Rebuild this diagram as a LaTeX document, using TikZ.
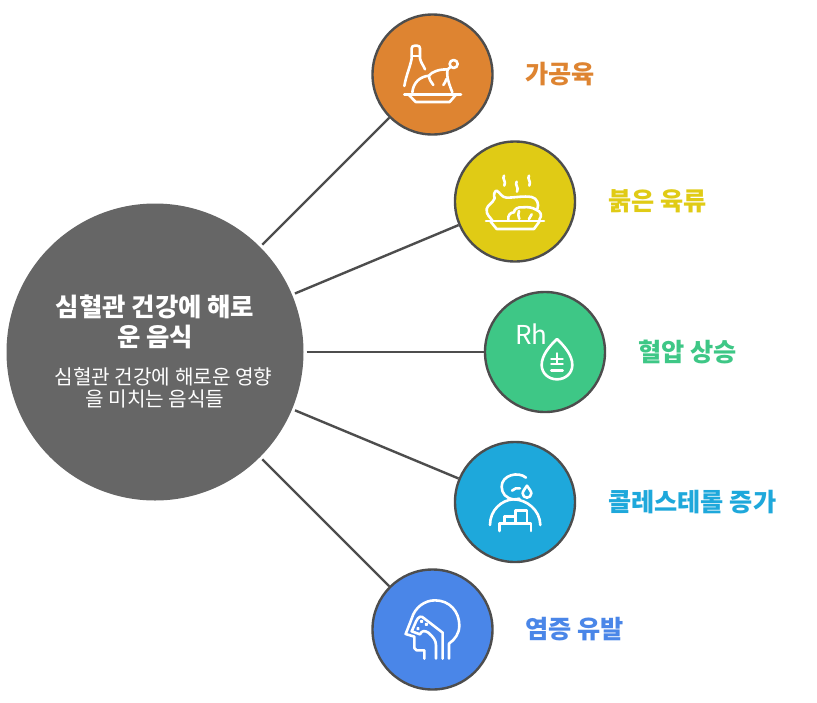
\documentclass[tikz,border=0pt]{standalone}
\usepackage{fontspec}
\setmainfont{Noto Sans CJK KR}
\definecolor{edgecol}{HTML}{4D4D4D}
\definecolor{cA}{HTML}{DE8431}
\definecolor{cB}{HTML}{E0CB15}
\definecolor{cC}{HTML}{3EC786}
\definecolor{cD}{HTML}{1EA8DB}
\definecolor{cE}{HTML}{4A86E8}
\definecolor{cM}{HTML}{666666}
\begin{document}
\begin{tikzpicture}[x=1pt,y=-1pt,
  bub/.style={circle,draw=edgecol,line width=2.4pt,minimum size=120pt,inner sep=0pt},
  link/.style={draw=edgecol,line width=2.4pt,shorten <=3pt},
  ico/.style={draw=white,line width=2.6pt,line cap=round,line join=round},
  lab/.style={anchor=west,inner sep=0pt,font=\fontsize{25.2}{30}\selectfont\bfseries},
  zoomx/.style={x=0.3333pt,y=-0.3333pt}]
\useasboundingbox (0,0) rectangle (817,702);
\fill[white] (0,0) rectangle (817,702);
\node[circle,fill=cM,minimum size=297pt,inner sep=0pt] (big) at (155,352) {};
\node[bub,fill=cA] (n1) at (432.5,74.5) {};
\node[bub,fill=cB] (n2) at (515,201.5) {};
\node[bub,fill=cC] (n3) at (545,352) {};
\node[bub,fill=cD] (n4) at (515,502) {};
\node[bub,fill=cE] (n5) at (432.5,629.5) {};
\draw[link] (big) -- (n1);
\draw[link] (big) -- (n2);
\draw[link] (big) -- (n3);
\draw[link] (big) -- (n4);
\draw[link] (big) -- (n5);
\node[text=white,font=\fontsize{25.4}{30}\selectfont\bfseries,align=center,inner sep=0pt] (title) at (155,322) {심혈관 건강에 해로\\운 음식};
\node[text=white,font=\fontsize{20.2}{22}\selectfont,align=center,inner sep=0pt] (sub) at (163.5,388) {심혈관 건강에 해로운 영향\\을 미치는 음식들\hspace*{17pt}};
\node[lab,text=cA] (l1) at (525,74.5) {가공육};
\node[lab,text=cB] (l2) at (608,201.5) {붉은 육류};
\node[lab,text=cC] (l3) at (638,352) {혈압 상승};
\node[lab,text=cD] (l4) at (608,502) {콜레스테롤 증가};
\node[lab,text=cE] (l5) at (525,629.5) {염증 유발};
% icon 1
\begin{scope}[shift={(365,5)},zoomx]
\draw[ico] (118,243) .. controls (125,205) and (136,185) .. (140,160) -- (140,130) .. controls (140,124) and (144,122) .. (150,122) -- (156,122) .. controls (162,122) and (165,125) .. (165,130) -- (165,160) .. controls (168,175) and (175,180) .. (180,193);
\draw[ico] (140,153) -- (165,153);
\draw[ico] (118,268) -- (288,268);
\draw[ico] (132,270) -- (152,291) -- (254,291) -- (272,270);
\draw[ico] (142,262) .. controls (145,232) and (165,215) .. (192,212) .. controls (200,200) and (225,192) .. (248,193) .. controls (245,205) and (245,220) .. (262,262);
\draw[ico] (192,212) .. controls (192,222) and (198,232) .. (205,240);
\draw[ico] (244,222) .. controls (244,228) and (238,235) .. (235,240);
\draw[ico] (248,193) -- (258,185);
\draw[ico] (266,177) circle[radius=12];
\end{scope}
% icon 2
\begin{scope}[shift={(450,135)},zoomx]
\draw[ico] (162,122) .. controls (155,132) and (170,138) .. (163,152);
\draw[ico] (200,140) .. controls (193,150) and (208,156) .. (201,170);
\draw[ico] (237,122) .. controls (230,132) and (245,138) .. (238,152);
\draw[ico] (108,258) -- (282,258);
\draw[ico] (122,260) -- (140,282) -- (252,282) -- (268,260);
\draw[ico] (128,258) .. controls (120,245) and (108,240) .. (110,222) .. controls (112,210) and (128,205) .. (134,190) .. controls (130,180) and (133,168) .. (140,167) .. controls (150,172) and (155,188) .. (170,188) .. controls (195,188) and (220,182) .. (245,186) .. controls (262,190) and (268,208) .. (262,222);
\draw[ico] (175,256) .. controls (172,240) and (182,232) .. (192,232) .. controls (192,222) and (205,215) .. (218,217) .. controls (235,215) and (248,218) .. (258,224) .. controls (272,228) and (278,242) .. (268,254);
\draw[ico] (208,252) .. controls (205,245) and (203,235) .. (207,228);
\draw[ico] (237,252) -- (245,238);
\end{scope}
% icon 3
\begin{scope}[shift={(480,285)},zoomx]
\node[text=white,font=\fontsize{26}{28}\selectfont,inner sep=0pt] (rh) at (154,146) {Rh};
\draw[ico] (231,162) .. controls (210,182) and (185,210) .. (185,240) .. controls (185,265) and (206,283) .. (231,283) .. controls (256,283) and (277,265) .. (277,240) .. controls (277,210) and (252,182) .. (231,162) -- cycle;
\draw[ico] (214,222) -- (248,222) (231,205) -- (231,236) (214,237) -- (248,237) (214,256) -- (248,256);
\end{scope}
% icon 4
\begin{scope}[shift={(450,435)},zoomx]
\draw[ico] (228,128) .. controls (205,108) and (155,120) .. (155,155) .. controls (155,175) and (168,190) .. (190,193) .. controls (195,193) and (202,193) .. (208,191);
\draw[ico] (186,167) .. controls (192,160) and (202,158) .. (210,160);
\draw[ico] (231,152) .. controls (224,162) and (218,170) .. (218,175) .. controls (218,183) and (224,188) .. (231,188) .. controls (238,188) and (244,183) .. (244,175) .. controls (244,170) and (238,162) .. (231,152) -- cycle;
\draw[ico] (120,270) .. controls (120,225) and (155,195) .. (190,193) .. controls (230,193) and (270,225) .. (271,270);
\draw[ico] (148,288) -- (148,266) -- (243,266) -- (243,288);
\draw[ico] (163,264) -- (163,244) -- (197,244) -- (197,264);
\draw[ico] (197,244) -- (197,226) -- (231,226) -- (231,264);
\end{scope}
% icon 5
\begin{scope}[shift={(365,562)},zoomx]
\draw[ico] (178,290) -- (178,265) -- (155,265) -- (148,258) -- (148,224) -- (122,216) -- (140,170) .. controls (150,135) and (180,115) .. (210,115) .. controls (255,115) and (283,150) .. (283,190) .. controls (283,215) and (270,232) .. (252,245) -- (252,290);
\draw[ico] (233,290) -- (233,212) -- (172,165) .. controls (162,160) and (155,172) .. (148,190) -- (140,208) -- (165,217) .. controls (170,205) and (180,205) .. (190,212) .. controls (205,225) and (213,235) .. (213,250) -- (213,290);
\draw[ico] (170,178) circle[radius=1.5] (184,187) circle[radius=1.5] (159,200) circle[radius=1.5];
\end{scope}
\end{tikzpicture}
\end{document}
